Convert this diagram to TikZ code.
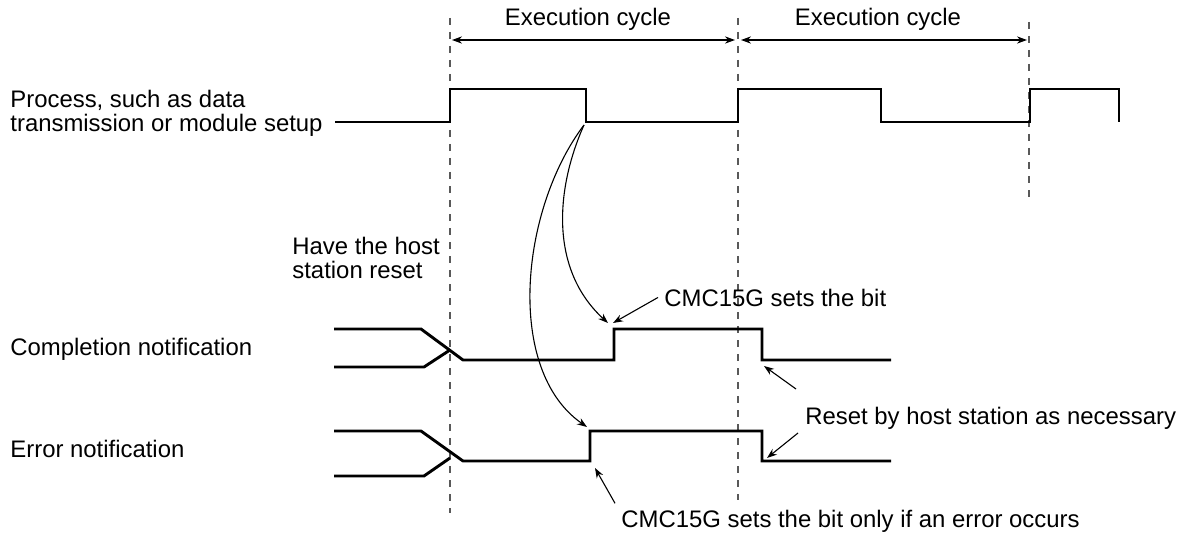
\documentclass[tikz,border=0pt]{standalone}
\usepackage{fontspec}
\setsansfont{Liberation Sans}
\usepackage{tikz}
\usetikzlibrary{arrows.meta}
\usetikzlibrary{positioning}

\begin{document}
\begin{tikzpicture}[x=0.5pt,y=-0.5pt,>={Stealth[length=5pt,width=3.6pt]},
	signal/.style={line width=1.45pt,line join=miter},
	guide/.style={gray!70!black,line width=0.7pt,dash pattern=on 3.5pt off 3.5pt},
	note/.style={->,line width=0.55pt},
	lbl/.style={font=\sffamily\fontsize{11.95}{12}\selectfont,inner sep=3pt,align=left}]

	\useasboundingbox (0,0) rectangle (1189,535);

	% cycle boundaries
	\draw[guide] (450,18) -- (450,513);
	\draw[guide] (738,18) -- (738,500);
	\draw[guide] (1029,22) -- (1029,204);

	\coordinate (c1r) at (452,40);
	\coordinate (c1l) at (735,40);
	\coordinate (c2r) at (741,40);
	\coordinate (c2l) at (1027,40);
	\node[lbl] (cyc1) at (588,19) {Execution cycle};
	\node[lbl] (cyc2) at (878,19) {Execution cycle};
	\draw[note,<->] (c1r) -- (c1l);
	\draw[note,<->] (c2r) -- (c2l);

	% signals
	\node[lbl,anchor=base west] (proc) at (4,132) {Process, such as data\\transmission or module setup};
	\draw[signal] (335,122) -- (450,122) -- (450,89) -- (586,89) -- (586,122) -- (738,122) -- (738,89)
		-- (881,89) -- (881,122) -- (1030,122) -- (1030,89) -- (1119,89) -- (1119,122);

	\node[lbl,anchor=base west] (done) at (4,355) {Completion notification};
	\draw[signal] (334,329) -- (421,329) -- (463,360) -- (614,360) -- (614,329) -- (762,329) -- (762,360) -- (891,360);
	\draw[signal] (334,367) -- (424,367) -- (450,350);

	\node[lbl,anchor=base west] (err) at (4,457) {Error notification};
	\draw[signal] (334,431) -- (421,431) -- (463,461) -- (590,461) -- (590,431) -- (762,431) -- (762,461) -- (891,461);
	\draw[signal] (334,476) -- (424,476) -- (450,458);

	% notes
	\node[lbl,anchor=base west] (host) at (286,278) {Have the host\\station reset};
	\node[lbl,anchor=base west] (cmc) at (658,306) {CMC15G sets the bit};
	\node[lbl,anchor=base west] (reset) at (799,424) {Reset by host station as necessary};
	\node[lbl,anchor=base west] (cmcerr) at (615,527) {CMC15G sets the bit only if an error occurs};

	\coordinate (fall) at (584,125);
	\coordinate (cset) at (608,323);
	\coordinate (ctip) at (613,323);
	\coordinate (eset) at (587,427);
	\coordinate (etip) at (595,468);
	\coordinate (r1) at (796,389);
	\coordinate (r1tip) at (764,366);
	\coordinate (r2) at (798,433);
	\coordinate (r2tip) at (767,458);

	\draw[note] (fall) .. controls (555,190) and (550,270) .. (cset);
	\draw[note] (fall) .. controls (520,210) and (505,370) .. (eset);
	\draw[note] (cmc.west) -- (ctip);
	\draw[note] (r1) -- (r1tip);
	\draw[note] (r2) -- (r2tip);
	\draw[note] (cmcerr.north west) -- (etip);

\end{tikzpicture}
\end{document}
